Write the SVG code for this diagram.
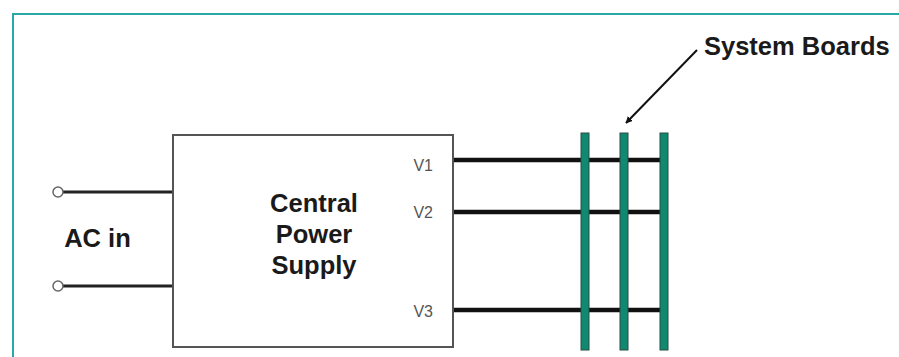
<svg xmlns="http://www.w3.org/2000/svg" width="899" height="357" viewBox="0 0 899 357">
<defs>
<style>
.lbl{font-family:"Liberation Sans",Arial,sans-serif;font-weight:bold;font-size:25.5px;fill:#1a1a1a}
.v{font-family:"Liberation Sans",Arial,sans-serif;font-size:16px;fill:#555}
.wire{stroke:#111;stroke-width:4.5;fill:none}
.ac{stroke:#222;stroke-width:3;fill:none}
.board{fill:#0f8a70;stroke:#2a4d45;stroke-width:1}
</style>
<marker id="ah" viewBox="0 0 10 10" refX="9" refY="5" markerWidth="7" markerHeight="7" orient="auto" markerUnits="userSpaceOnUse">
<path d="M0,0 L10,5 L0,10 Z" fill="#111"/>
</marker>
</defs>
<rect width="899" height="357" fill="#fff"/>
<path d="M13,357 V14 H899" fill="none" stroke="#2aa8a8" stroke-width="2"/>
<g id="connectors">
<line class="ac" x1="62" y1="192" x2="173" y2="192"/>
<line class="ac" x1="62" y1="286" x2="173" y2="286"/>
<line class="wire" x1="453" y1="160" x2="662" y2="160"/>
<line class="wire" x1="453" y1="212" x2="662" y2="212"/>
<line class="wire" x1="453" y1="310" x2="662" y2="310"/>
<line x1="697" y1="50" x2="626" y2="123" stroke="#111" stroke-width="2" marker-end="url(#ah)"/>
</g>
<g id="ac-in">
<circle cx="58" cy="192" r="5" fill="#fff" stroke="#666" stroke-width="1.5"/>
<circle cx="58" cy="286" r="5" fill="#fff" stroke="#666" stroke-width="1.5"/>
<text class="lbl" x="97.5" y="247" text-anchor="middle">AC in</text>
</g>
<g id="central-power-supply">
<rect x="173" y="135" width="280" height="212" fill="#fff" stroke="#555" stroke-width="2"/>
<text class="lbl" x="314" y="212" text-anchor="middle">Central</text>
<text class="lbl" x="314" y="243" text-anchor="middle">Power</text>
<text class="lbl" x="314" y="274" text-anchor="middle">Supply</text>
<text class="v" x="433" y="171" text-anchor="end">V1</text>
<text class="v" x="433" y="218" text-anchor="end">V2</text>
<text class="v" x="433" y="317" text-anchor="end">V3</text>
</g>
<g id="system-boards">
<rect class="board" x="581" y="133" width="8" height="217"/>
<rect class="board" x="620" y="133" width="8" height="217"/>
<rect class="board" x="660" y="133" width="8" height="217"/>
<text class="lbl" x="704" y="55">System Boards</text>
</g>
</svg>
